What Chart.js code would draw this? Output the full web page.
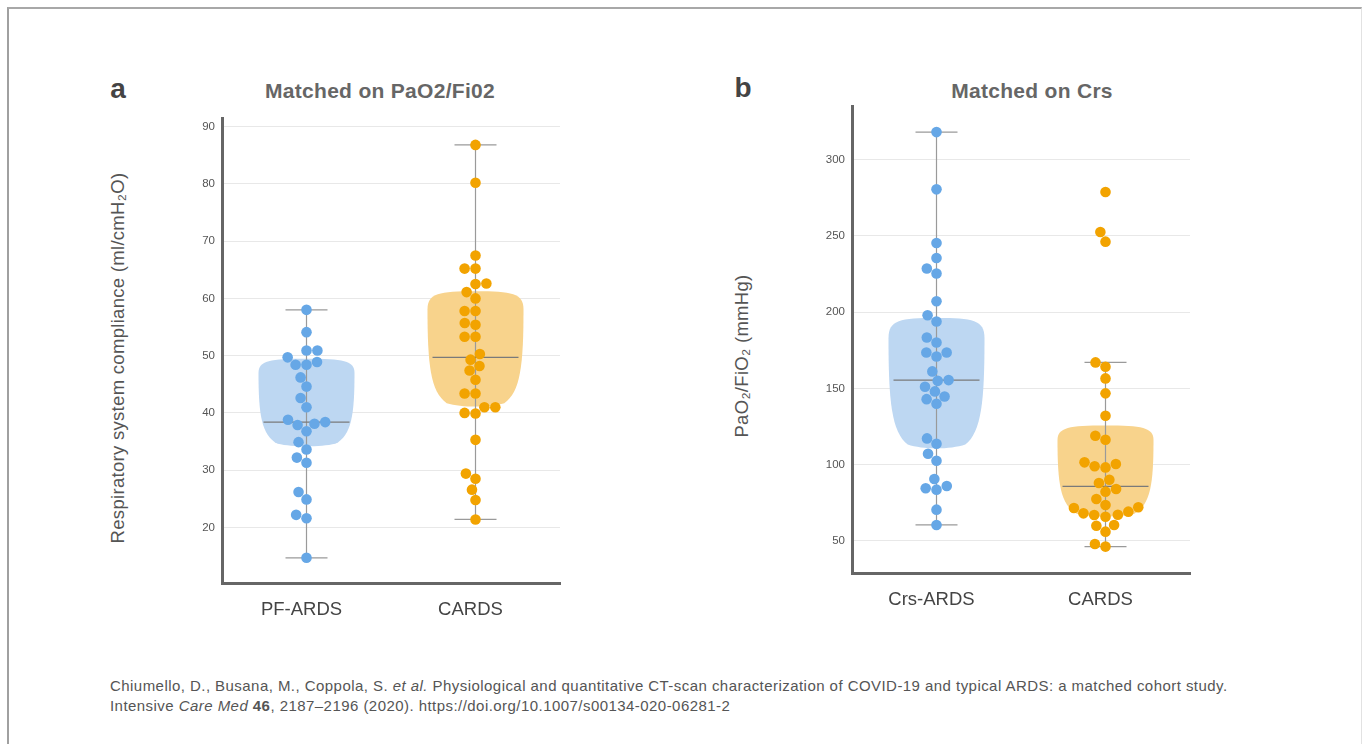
<!DOCTYPE html>
<html>
<head>
<meta charset="utf-8">
<script src="https://cdn.jsdelivr.net/npm/chart.js@4.4.1/dist/chart.umd.min.js"></script>
<style>
    body { margin: 0; background: #fff; font-family: "Liberation Sans", Arial, sans-serif; }
    #frame { position: absolute; left: 7px; top: 7px; width: 1352px; height: 780px;
             border-top: 2px solid #a8a8a8; border-left: 2px solid #a0a0a0; border-right: 1px solid #e2e2e2; }
    .box { position: absolute; }
    .letter { position: absolute; font-weight: bold; font-size: 28px; color: #444; transform: translate(-50%, -50%); }
    .title { position: absolute; font-weight: bold; font-size: 21px; letter-spacing: 0.3px; color: #666; white-space: nowrap; transform: translate(-50%, -50%); }
    .ytitle { position: absolute; font-size: 18.5px; letter-spacing: 0.3px; color: #555; white-space: nowrap; transform: translate(-50%, -50%) rotate(-90deg); }
    .caption { position: absolute; left: 110px; top: 676px; font-size: 15px; letter-spacing: 0.45px; color: #555; line-height: 19.5px; white-space: nowrap; }
</style>
</head>
<body>
<div id="frame"></div>

<div class="letter" style="left:118px; top:89px;">a</div>
<div class="title" style="left:380px; top:91px;">Matched on PaO2/Fi02</div>
<div class="ytitle" style="left:118px; top:358px;">Respiratory system compliance (ml/cmH₂O)</div>
<div class="box" style="left:150px; top:100px;"><canvas id="chartA" width="430" height="530"></canvas></div>

<div class="letter" style="left:743px; top:88px;">b</div>
<div class="title" style="left:1032px; top:91px;">Matched on Crs</div>
<div class="ytitle" style="left:742px; top:356px;">PaO₂/FiO₂ (mmHg)</div>
<div class="box" style="left:780px; top:90px;"><canvas id="chartB" width="430" height="530"></canvas></div>

<div class="caption">
Chiumello, D., Busana, M., Coppola, S. <i>et al.</i> Physiological and quantitative CT-scan characterization of COVID-19 and typical ARDS: a matched cohort study.<br>
Intensive <i>Care Med</i> <b>46</b>, 2187–2196 (2020). https://doi.org/10.1007/s00134-020-06281-2
</div>

<script>
// panel a: respiratory system compliance, matched on PaO2/FiO2
const aCategories = ["PF-ARDS", "CARDS"];
const aPfArds = [58.0, 54.1, 50.9, 50.9, 49.7, 48.9, 48.4, 48.4, 46.2, 44.6, 42.6, 41.0, 38.8,
                 38.4, 38.1, 37.9, 36.8, 34.9, 33.6, 32.2, 31.3, 26.2, 24.9, 22.2, 21.6, 14.7];
const aCards = [86.8, 80.2, 67.5, 65.2, 65.2, 62.5, 62.6, 61.1, 60.0, 57.8, 57.8, 55.7, 55.4, 53.3,
                53.3, 50.3, 49.3, 48.2, 47.4, 45.8, 43.4, 43.4, 41.0, 41.0, 40.0, 39.9, 35.3, 29.4,
                28.5, 26.6, 24.8, 21.4];
// [low whisker, q1, median, q3, high whisker]
const aPfArdsStats = [14.7, 34.0, 38.4, 49.1, 58.0];
const aCardsStats = [21.4, 40.9, 49.7, 60.9, 86.8];
const aTicks = [20, 30, 40, 50, 60, 70, 80, 90];

// panel b: PaO2/FiO2, matched on Crs
const bCategories = ["Crs-ARDS", "CARDS"];
const bCrsArds = [317.9, 280.4, 245.2, 235.4, 228.5, 225.2, 207.1, 197.9, 193.8, 183.3, 180.0,
                  173.5, 173.5, 170.9, 161.1, 155.4, 154.9, 151.0, 148.0, 144.7, 142.9, 139.9,
                  117.2, 113.7, 107.1, 102.6, 90.6, 86.0, 84.5, 83.6, 70.5, 60.5];
const bCards = [278.6, 252.4, 246.1, 167.0, 164.1, 156.5, 146.7, 132.0, 118.9, 116.3, 101.5, 100.4,
                98.9, 98.2, 90.1, 88.0, 84.0, 82.3, 77.5, 73.6, 72.1, 71.6, 69.2, 68.1, 67.2, 67.0,
                65.9, 60.5, 60.0, 56.1, 48.0, 46.3];
const bCrsArdsStats = [60.5, 109.8, 155.4, 194.8, 317.9];
const bCardsStats = [46.3, 65.5, 85.8, 124.4, 167.0];
const bTicks = [50, 100, 150, 200, 250, 300];

const pointColors = ["#66a7e6", "#f2a300"];
const fillColors = ["#bdd7f2", "#f8d38c"];
const DOT = 5.3;

// violin-ish boxes, whiskers and median lines behind the dots
const violinPlugin = {
    id: "violins",
    beforeDatasetsDraw(chart, args, opts) {
        const ctx = chart.ctx;
        const xs = chart.scales.x;
        const ys = chart.scales.y;
        opts.stats.forEach(function(s, i) {
            const cx = xs.getPixelForValue(i);
            const yLow = ys.getPixelForValue(s[0]);
            const yb = ys.getPixelForValue(s[1]);
            const yMed = ys.getPixelForValue(s[2]);
            const yt = ys.getPixelForValue(s[3]);
            const yHigh = ys.getPixelForValue(s[4]);
            const W = 96, h = yb - yt;
            const xl = cx - W / 2, xr = cx + W / 2;

            ctx.save();
            ctx.fillStyle = fillColors[i];
            ctx.beginPath();
            ctx.moveTo(cx, yt - 2);
            ctx.bezierCurveTo(cx + W * 0.38, yt - 2, xr, yt, xr, yt + 0.14 * h);
            ctx.bezierCurveTo(xr, yt + 0.62 * h, xr - 0.03 * W, yt + 0.86 * h, cx + 0.3 * W, yb - 0.04 * h);
            ctx.bezierCurveTo(cx + 0.14 * W, yb, cx - 0.14 * W, yb, cx - 0.3 * W, yb - 0.04 * h);
            ctx.bezierCurveTo(xl + 0.03 * W, yt + 0.86 * h, xl, yt + 0.62 * h, xl, yt + 0.14 * h);
            ctx.bezierCurveTo(xl, yt, cx - W * 0.38, yt - 2, cx, yt - 2);
            ctx.closePath();
            ctx.fill();

            ctx.strokeStyle = "#9a9a9a";
            ctx.lineWidth = 1.2;
            ctx.beginPath();
            ctx.moveTo(cx, yLow); ctx.lineTo(cx, yHigh);
            ctx.moveTo(cx - 21, yLow); ctx.lineTo(cx + 21, yLow);
            ctx.moveTo(cx - 21, yHigh); ctx.lineTo(cx + 21, yHigh);
            ctx.stroke();

            ctx.strokeStyle = "#7a7a7a";
            ctx.beginPath();
            ctx.moveTo(cx - 43, yMed); ctx.lineTo(cx + 43, yMed);
            ctx.stroke();
            ctx.restore();
        });
    }
};

// simple beeswarm: lowest values first, nearest free spot to the centre, left first
function swarm(chart) {
    const xs = chart.scales.x;
    const ys = chart.scales.y;
    const pxPerUnit = xs.getPixelForValue(1) - xs.getPixelForValue(0);
    const D = DOT * 2 + 0.3;
    chart.data.datasets.forEach(function(ds, i) {
        const pts = ds.data.map((p, k) => ({ k: k, py: ys.getPixelForValue(p.y) }));
        pts.sort((a, b) => b.py - a.py);
        const placed = [];
        pts.forEach(function(p) {
            let cands = [0];
            placed.forEach(function(q) {
                const dy = Math.abs(q.py - p.py);
                if (dy < D) {
                    const dx = Math.sqrt(D * D - dy * dy);
                    cands.push(q.px - dx, q.px + dx);
                }
            });
            cands = cands.filter(c => placed.every(q => (q.px - c) ** 2 + (q.py - p.py) ** 2 >= D * D - 0.01));
            cands.sort((a, b) => Math.abs(a) - Math.abs(b) || a - b);
            p.px = cands[0];
            placed.push(p);
        });
        pts.forEach(function(p) { ds.data[p.k].x = i + p.px / pxPerUnit; });
    });
    chart.update("none");
}

function makeChart(id, categories, groups, stats, tickValues, yMin, yMax, padTop) {
    const chart = new Chart(document.getElementById(id), {
        type: "scatter",
        data: {
            datasets: groups.map((vals, i) => ({
                label: categories[i],
                data: vals.map(v => ({ x: i, y: v })),
                backgroundColor: pointColors[i],
                borderWidth: 0,
                pointRadius: DOT,
                pointHoverRadius: DOT
            }))
        },
        options: {
            responsive: false,
            animation: false,
            layout: { padding: { top: padTop, right: 20, left: 0, bottom: 0 } },
            plugins: {
                legend: { display: false },
                tooltip: { enabled: false },
                violins: { stats: stats }
            },
            scales: {
                x: {
                    type: "linear",
                    min: -0.5,
                    max: 1.5,
                    afterBuildTicks: function(scale) { scale.ticks = [{ value: 0 }, { value: 1 }]; },
                    afterFit: function(scale) { scale.height = 47; scale.paddingLeft = 0; scale.paddingRight = 0; },
                    grid: { display: false },
                    border: { display: true, color: "#666", width: 3 },
                    ticks: {
                        padding: 8,
                        labelOffset: -5,
                        color: "#444",
                        font: { family: "'Liberation Sans', Arial, sans-serif", size: 18.5 },
                        callback: function(v) { return categories[Math.round(v)]; }
                    }
                },
                y: {
                    min: yMin,
                    max: yMax,
                    afterBuildTicks: function(scale) { scale.ticks = tickValues.map(v => ({ value: v })); },
                    afterFit: function(scale) { scale.width = 72; scale.paddingTop = 0; scale.paddingBottom = 0; },
                    grid: { color: "#e8e8e8", lineWidth: 1, drawTicks: false },
                    border: { display: true, color: "#666", width: 3 },
                    ticks: {
                        padding: 7,
                        color: "#555",
                        font: { family: "'Liberation Sans', Arial, sans-serif", size: 11.5 }
                    }
                }
            }
        },
        plugins: [violinPlugin]
    });
    swarm(chart);
    return chart;
}

makeChart("chartA", aCategories, [aPfArds, aCards], [aPfArdsStats, aCardsStats], aTicks, 10.3, 91.5, 18);
makeChart("chartB", bCategories, [bCrsArds, bCards], [bCrsArdsStats, bCardsStats], bTicks, 29, 335, 16);
</script>
</body>
</html>
